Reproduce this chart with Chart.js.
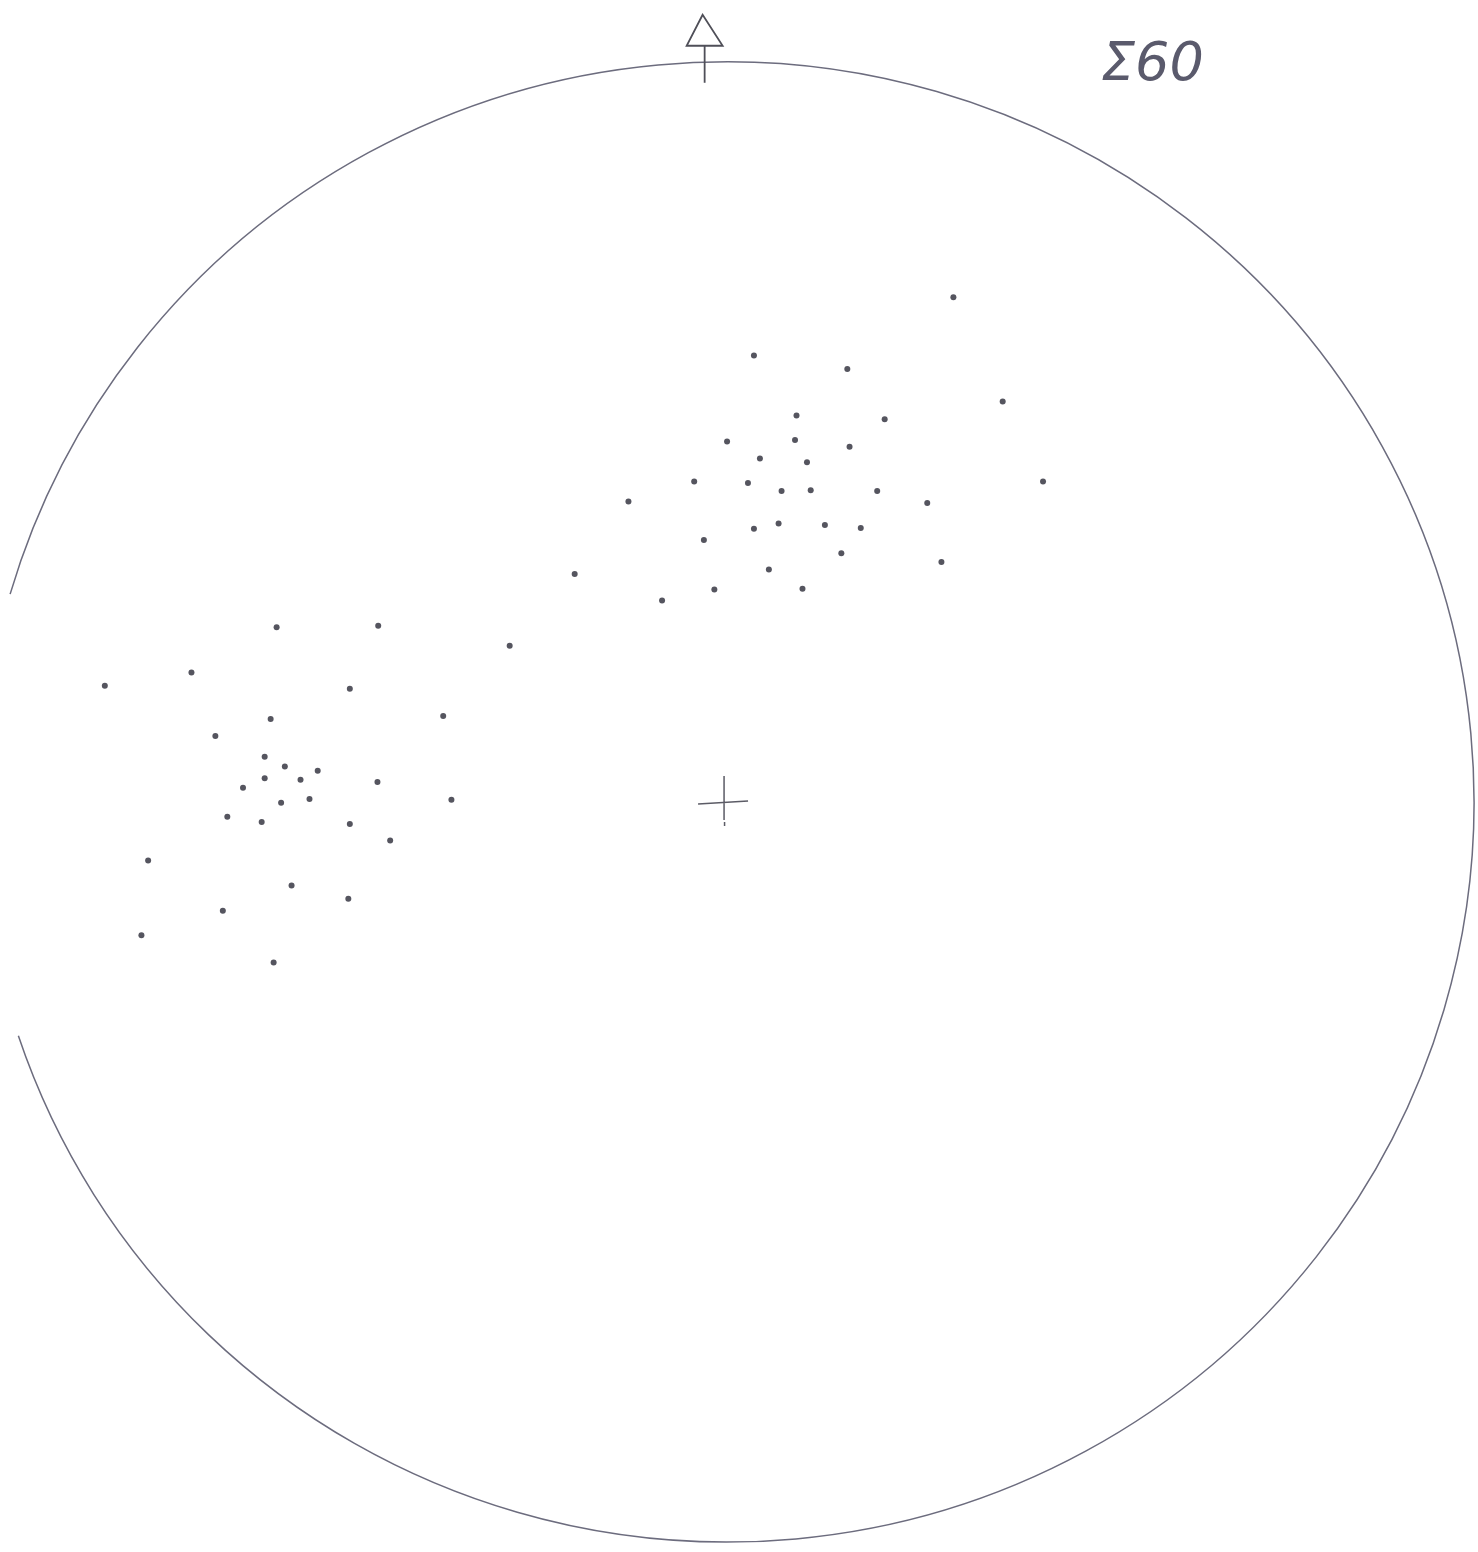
<!DOCTYPE html>
<html>
<head>
<meta charset="utf-8">
<script src="https://cdn.jsdelivr.net/npm/chart.js@4/dist/chart.umd.min.js"></script>
<style>
  html, body { margin: 0; padding: 0; background: #ffffff; }
  #wrap { width: 1478px; height: 1552px; }
</style>
</head>
<body>
<div id="wrap"><canvas id="net" width="1478" height="1552"></canvas></div>
<script>
// stereonet coordinates, net radius = 100 (x east, y north)
const poleX = [
  30.3, 3.6, 16.1, 36.9, 9.3, 21.1, 0.0, 9.1, 16.4, 4.4,
  10.7, -4.4, 2.8, 7.3, 11.2, 20.1, 42.3, -13.2, 26.8, 3.6,
  6.9, 13.1, 17.9, -3.1, 15.3, 28.7, 5.6, -1.7, 10.1, -8.7,
  -20.4, -29.1,
  -60.3, -46.7, -71.7, -83.3, -50.5, -61.1, -38.0, -68.5, -61.9, -59.2,
  -54.8, -61.9, -57.1, -64.8, -46.8, -59.7, -55.9, -36.9, -66.9, -62.3,
  -50.5, -45.1, -77.5, -58.3, -50.7, -67.5, -78.4, -60.7
];
const poleY = [
  68.2, 60.3, 58.5, 54.1, 52.2, 51.7, 48.7, 48.9, 48.0, 46.4,
  45.9, 43.3, 43.1, 42.0, 42.1, 42.0, 43.3, 40.6, 40.4, 36.9,
  37.6, 37.4, 37.0, 35.4, 33.6, 32.4, 31.4, 28.7, 28.8, 27.2,
  30.8, 21.1,
  23.6, 23.8, 17.5, 15.7, 15.3, 11.2, 11.6, 8.9, 6.1, 4.8,
  4.2, 3.2, 3.0, 1.9, 2.7, -0.1, 0.4, 0.3, -2.0, -2.7,
  -3.0, -5.2, -7.9, -11.3, -13.1, -14.7, -18.0, -21.7
];
const countLabel = '\u03A360';
const netRadius = 100;
const northMarkX = -3;   // north arrow sits slightly left of centre on the drawing
const crossX = -0.4;

const points = poleX.map((x, i) => ({ x: x, y: poleY[i] }));

const inkLine = '#6c6c7e';
const inkDot = '#55555f';

const netPlugin = {
  id: 'netPlugin',
  beforeDatasetsDraw(chart) {
    const ctx = chart.ctx;
    const xs = chart.scales.x, ys = chart.scales.y;
    const cx = xs.getPixelForValue(0), cy = ys.getPixelForValue(0);
    const rx = xs.getPixelForValue(netRadius) - cx;
    const ry = cy - ys.getPixelForValue(netRadius);
    ctx.save();
    ctx.strokeStyle = inkLine;
    ctx.lineWidth = 1.5;
    // primitive circle (left part lost on the scan)
    ctx.beginPath();
    ctx.ellipse(cx, cy, rx, ry, 0, -2.857, 2.820, false);
    ctx.stroke();

    // centre cross
    const kx = xs.getPixelForValue(crossX);
    ctx.strokeStyle = '#5c5c66';
    ctx.lineWidth = 1.5;
    ctx.beginPath();
    ctx.moveTo(kx - 26, cy + 2); ctx.lineTo(kx + 24, cy - 1);
    ctx.moveTo(kx, cy - 26); ctx.lineTo(kx, cy + 18);
    ctx.moveTo(kx + 0.5, cy + 20); ctx.lineTo(kx + 0.5, cy + 24);
    ctx.stroke();

    // north arrow
    const nx = xs.getPixelForValue(northMarkX);
    const ny = ys.getPixelForValue(netRadius);
    ctx.strokeStyle = '#4f4f58';
    ctx.lineWidth = 1.8;
    ctx.beginPath();
    ctx.moveTo(nx, ny - 16); ctx.lineTo(nx, ny + 21);
    ctx.stroke();
    ctx.beginPath();
    ctx.moveTo(nx - 2, ny - 47);
    ctx.lineTo(nx - 18, ny - 16);
    ctx.lineTo(nx + 18, ny - 16);
    ctx.closePath();
    ctx.stroke();

    // count label
    ctx.fillStyle = '#5a5a6c';
    ctx.font = 'italic 300 54px "DejaVu Sans", sans-serif';
    ctx.textBaseline = 'alphabetic';
    ctx.textAlign = 'left';
    ctx.fillText(countLabel, 1101, 80);
    ctx.restore();
  }
};

new Chart(document.getElementById('net').getContext('2d'), {
  type: 'scatter',
  data: {
    datasets: [{
      data: points,
      pointRadius: 3,
      pointBorderWidth: 0,
      pointBackgroundColor: inkDot,
      pointHoverRadius: 3
    }]
  },
  options: {
    responsive: false,
    animation: false,
    devicePixelRatio: 1,
    layout: { padding: 0 },
    plugins: { legend: { display: false }, tooltip: { enabled: false } },
    scales: {
      x: { type: 'linear', min: -96.93, max: 100.13, display: false },
      y: { type: 'linear', min: -100.94, max: 107.94, display: false }
    }
  },
  plugins: [netPlugin]
});
</script>
</body>
</html>
